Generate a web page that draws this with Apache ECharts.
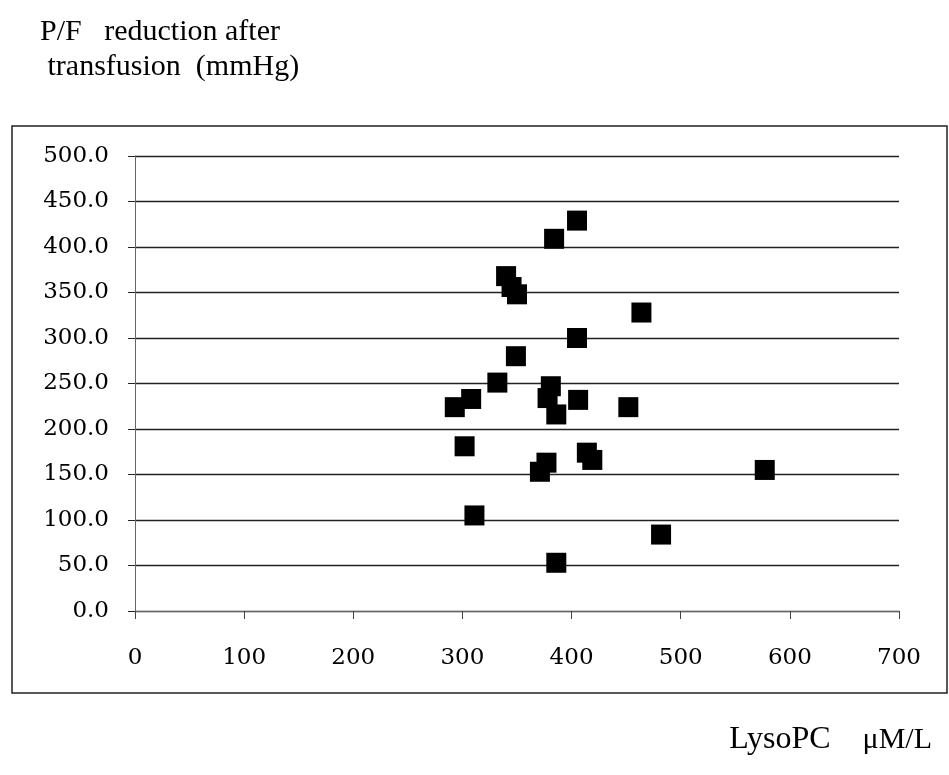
<!DOCTYPE html>
<html>
<head>
<meta charset="utf-8">
<script src="https://cdn.jsdelivr.net/npm/echarts@6/dist/echarts.min.js"></script>
<style>
html,body{margin:0;padding:0;background:#fff;}
#chart{width:949px;height:775px;}
</style>
</head>
<body>
<div id="chart"></div>
<script>
// Data
var lysoPC = [405, 384, 340, 345, 350, 464, 405, 349, 332, 381, 378, 386, 406, 308, 293, 452, 302, 414, 419, 377, 371, 311, 482, 386, 577];
var pfReduction = [429, 409, 368, 356, 348, 328, 300, 280, 251, 247, 234, 216, 232, 233, 224, 224, 181, 174, 166, 163, 153, 105, 84, 53, 155];
var yTitleLines = ['P/F   reduction after', ' transfusion\u2002(mmHg)'];
var xTitleParts = ['LysoPC', '\u03bcM/L'];

var points = lysoPC.map(function (x, i) { return [x, pfReduction[i]]; });

var chart = echarts.init(document.getElementById('chart'), null, {renderer: 'canvas'});
var serif = '"Liberation Serif", "Times New Roman", serif';
var tickFont = '"DejaVu Serif", serif';

chart.setOption({
  animation: false,
  backgroundColor: '#ffffff',
  title: [
    {
      text: yTitleLines.join('\n'),
      left: 35, top: 10,
      textStyle: {fontFamily: serif, fontSize: 30, fontWeight: 'normal', color: '#000', lineHeight: 35}
    },
    {
      text: '{a|' + xTitleParts[0] + '\u2003}{b|' + xTitleParts[1] + '}',
      right: 12, top: 719,
      textStyle: {
        fontFamily: serif, fontSize: 32, fontWeight: 'normal', color: '#000',
        rich: {
          a: {fontFamily: serif, fontSize: 32, color: '#000'},
          b: {fontFamily: serif, fontSize: 30, color: '#000'}
        }
      }
    }
  ],
  graphic: [
    {
      type: 'rect',
      shape: {x: 12, y: 126, width: 935, height: 567},
      style: {fill: 'none', stroke: '#222', lineWidth: 1.5},
      z: -1
    }
  ],
  grid: {left: 135, top: 156, right: 50, bottom: 164},
  xAxis: {
    type: 'value', min: 0, max: 700, interval: 100,
    axisLine: {show: true, lineStyle: {color: '#666', width: 1}},
    axisTick: {show: true, inside: false, length: 8, lineStyle: {color: '#444'}},
    axisLabel: {fontFamily: tickFont, fontSize: 23, color: '#000', margin: 36},
    splitLine: {show: false}
  },
  yAxis: {
    type: 'value', min: 0, max: 500, interval: 50,
    axisLine: {show: true, lineStyle: {color: '#666', width: 1}},
    axisTick: {show: true, inside: false, length: 7, lineStyle: {color: '#222'}},
    axisLabel: {fontFamily: tickFont, fontSize: 23, color: '#000', margin: 26,
      formatter: function (v) { return v.toFixed(1); }},
    splitLine: {show: true, lineStyle: {color: '#222', width: 1.3}}
  },
  series: [{
    type: 'scatter',
    data: points,
    symbol: 'rect',
    symbolSize: 20,
    itemStyle: {color: '#000', opacity: 1}
  }]
});
</script>
</body>
</html>
